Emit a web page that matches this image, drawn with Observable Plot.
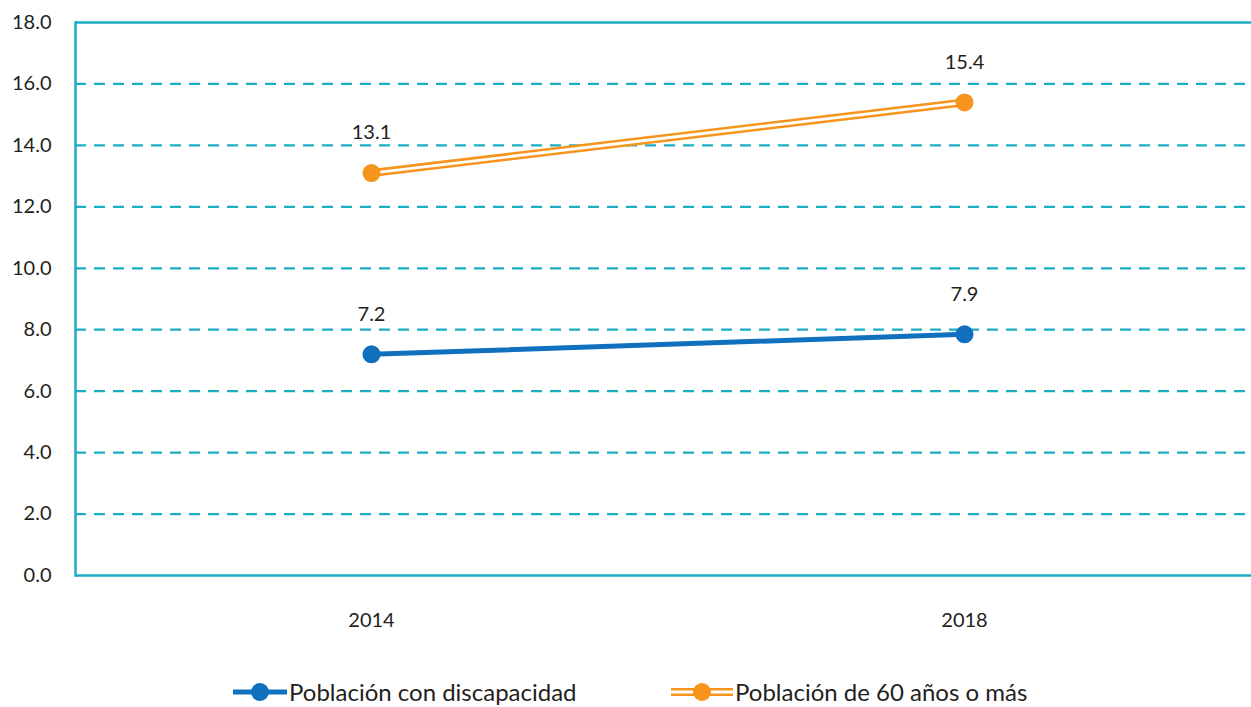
<!DOCTYPE html>
<html>
<head>
<meta charset="utf-8">
<script src="https://cdn.jsdelivr.net/npm/d3@7"></script>
<script src="https://cdn.jsdelivr.net/npm/@observablehq/plot@0.6"></script>
<style>
  body { margin: 0; background: #fff; font-family: Lato, "Noto Sans", sans-serif; color: #231f20; }
  #chart { position: relative; width: 1251px; }
  #legend { position: relative; width: 1251px; height: 57px; }
  .item { position: absolute; top: 27px; display: flex; align-items: center; font-size: 24px; color: #231f20; }
  .item svg { margin-right: 2px; }
</style>
</head>
<body>
<div id="chart"></div>
<div id="legend"></div>
<script>
const years = ["2014", "2018"];
const seriesNames = ["Población con discapacidad", "Población de 60 años o más"];
const discapacidad = [7.2, 7.85];
const discapacidadLabels = ["7.2", "7.9"];
const mayores60 = [13.1, 15.4];
const mayores60Labels = ["13.1", "15.4"];
const yTicks = [0, 2, 4, 6, 8, 10, 12, 14, 16, 18];
const gridTicks = [2, 4, 6, 8, 10, 12, 14, 16];

const teal = "#1badc1";
const blue = "#1170be";
const orange = "#f7941d";
const ink = "#231f20";

const blueData = years.map((y, i) => ({year: y, value: discapacidad[i], label: discapacidadLabels[i]}));
const orangeData = years.map((y, i) => ({year: y, value: mayores60[i], label: mayores60Labels[i]}));

const chart = Plot.plot({
  width: 1251,
  height: 650,
  marginTop: 22,
  marginBottom: 75,
  marginLeft: 75,
  marginRight: 0,
  style: {fontFamily: "Lato, 'Noto Sans', sans-serif", fontSize: "20px", color: ink, background: "#fff"},
  x: {type: "point", domain: years, padding: 0.5, range: [74, 1260], label: null},
  y: {domain: [0, 18], label: null},
  marks: [
    Plot.ruleY(gridTicks, {stroke: teal, strokeWidth: 2.2, strokeDasharray: "11,8"}),
    Plot.ruleY([18], {stroke: teal, strokeWidth: 2.5}),
    Plot.ruleY([0], {stroke: teal, strokeWidth: 2.5}),
    Plot.frame({anchor: "left", stroke: teal, strokeWidth: 2.5}),
    Plot.axisY(yTicks, {tickSize: 0, tickPadding: 24, tickFormat: d => d.toFixed(1), fontSize: 20, fill: ink, label: null}),
    Plot.axisX(years, {tickSize: 0, tickPadding: 37, fontSize: 20, fill: ink, label: null}),
    Plot.line(orangeData, {x: "year", y: "value", stroke: orange, strokeWidth: 8}),
    Plot.line(orangeData, {x: "year", y: "value", stroke: "#fff", strokeWidth: 2.8}),
    Plot.dot(orangeData, {x: "year", y: "value", r: 9, fill: orange}),
    Plot.line(blueData, {x: "year", y: "value", stroke: blue, strokeWidth: 5}),
    Plot.dot(blueData, {x: "year", y: "value", r: 9, fill: blue}),
    Plot.text(orangeData, {x: "year", y: "value", text: "label", dy: -40, fontSize: 20, fill: ink}),
    Plot.text(blueData, {x: "year", y: "value", text: "label", dy: -40, fontSize: 20, fill: ink})
  ]
});
document.getElementById("chart").appendChild(chart);

const legend = document.getElementById("legend");
const items = [
  {name: seriesNames[0], color: blue, double: false, left: 233, w: 54},
  {name: seriesNames[1], color: orange, double: true, left: 671, w: 62}
];
items.forEach(it => {
  const div = document.createElement("div");
  div.className = "item";
  div.style.left = it.left + "px";
  const ns = "http://www.w3.org/2000/svg";
  const svg = document.createElementNS(ns, "svg");
  svg.setAttribute("width", it.w);
  svg.setAttribute("height", 22);
  const mk = (tag, attrs) => { const e = document.createElementNS(ns, tag); for (const k in attrs) e.setAttribute(k, attrs[k]); svg.appendChild(e); };
  if (it.double) {
    mk("line", {x1: 0, x2: it.w, y1: 11, y2: 11, stroke: it.color, "stroke-width": 8});
    mk("line", {x1: 0, x2: it.w, y1: 11, y2: 11, stroke: "#fff", "stroke-width": 2.8});
  } else {
    mk("line", {x1: 0, x2: it.w, y1: 11, y2: 11, stroke: it.color, "stroke-width": 5});
  }
  mk("circle", {cx: it.w / 2, cy: 11, r: 9, fill: it.color});
  div.appendChild(svg);
  const span = document.createElement("span");
  span.textContent = it.name;
  div.appendChild(span);
  legend.appendChild(div);
});
</script>
</body>
</html>
